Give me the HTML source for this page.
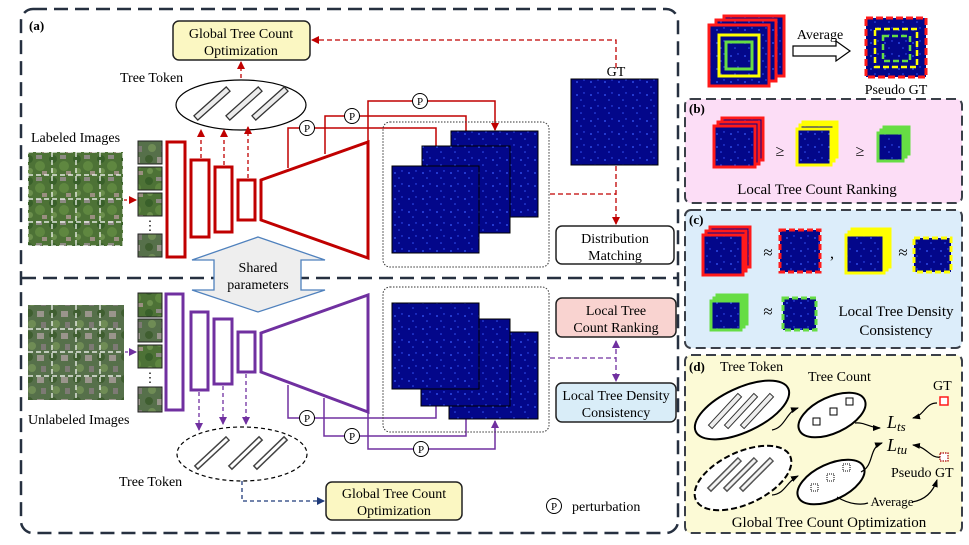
<!DOCTYPE html>
<html><head><meta charset="utf-8"><style>
html,body{margin:0;padding:0;background:#fff;}
svg{display:block;font-family:"Liberation Serif",serif;}
</style></head><body>
<svg width="969" height="545" viewBox="0 0 969 545" xmlns="http://www.w3.org/2000/svg">
<defs>
<pattern id="dots" width="14" height="13" patternUnits="userSpaceOnUse">
<rect width="14" height="13" fill="#03078a"/>
<circle cx="3" cy="4" r="0.9" fill="#3a5cff"/><circle cx="10" cy="2" r="0.7" fill="#3858ff"/>
<circle cx="7" cy="9" r="0.8" fill="#3454f5"/>
</pattern>
<pattern id="aer" width="24" height="22" patternUnits="userSpaceOnUse">
<rect width="24" height="22" fill="#4d7236"/>
<circle cx="5" cy="5" r="4" fill="#39602a"/><circle cx="16" cy="12" r="5" fill="#5f8740"/>
<rect x="12" y="1" width="6" height="4" fill="#8c8a82"/><circle cx="6" cy="17" r="3" fill="#6b8f4c"/>
<rect x="18" y="17" width="5" height="4" fill="#9a8f80"/>
</pattern>
<pattern id="aer2" width="24" height="22" patternUnits="userSpaceOnUse">
<rect width="24" height="22" fill="#56704a"/>
<circle cx="5" cy="5" r="4" fill="#3f5e30"/><rect x="13" y="3" width="7" height="6" fill="#9a958c"/>
<circle cx="8" cy="16" r="4" fill="#6f8c55"/><rect x="17" y="14" width="5" height="6" fill="#7d7a74"/>
</pattern>
<marker id="ar" markerWidth="8" markerHeight="8" refX="7" refY="4" orient="auto" markerUnits="userSpaceOnUse"><path d="M0,0 L8,4 L0,8 Z" fill="#c00000"/></marker>
<marker id="ap" markerWidth="8" markerHeight="8" refX="7" refY="4" orient="auto" markerUnits="userSpaceOnUse"><path d="M0,0 L8,4 L0,8 Z" fill="#7030a0"/></marker>
<marker id="apb" markerWidth="8" markerHeight="8" refX="1" refY="4" orient="auto" markerUnits="userSpaceOnUse"><path d="M8,0 L0,4 L8,8 Z" fill="#7030a0"/></marker>
<marker id="an" markerWidth="8" markerHeight="8" refX="7" refY="4" orient="auto" markerUnits="userSpaceOnUse"><path d="M0,0 L8,4 L0,8 Z" fill="#1f3a7a"/></marker>
<marker id="ak" markerWidth="8" markerHeight="8" refX="7" refY="4" orient="auto" markerUnits="userSpaceOnUse"><path d="M0,1 L8,4 L0,7 Z" fill="#000"/></marker>
</defs>

<rect x="21" y="9" width="657" height="524" rx="12" fill="none" stroke="#263040" stroke-width="2.5" stroke-dasharray="14,7"/>
<line x1="22" y1="278" x2="677" y2="278" stroke="#263040" stroke-width="2.5" stroke-dasharray="14,7"/>
<text x="29" y="30" font-size="13" font-weight="bold">(a)</text>

<rect x="173" y="21" width="137" height="39" rx="6" fill="#fbf7c2" stroke="#222" stroke-width="1.5"/>
<text x="241" y="38" font-size="14" text-anchor="middle">Global Tree Count</text>
<text x="241" y="55" font-size="14" text-anchor="middle">Optimization</text>
<path d="M616,68 V40 H312" fill="none" stroke="#c00000" stroke-width="1.3" stroke-dasharray="5,3" marker-end="url(#ar)"/>
<line x1="241" y1="78" x2="241" y2="62" stroke="#c00000" stroke-width="1.3" stroke-dasharray="4,3" marker-end="url(#ar)"/>
<text x="120" y="82" font-size="14">Tree Token</text>
<ellipse cx="241" cy="105" rx="65" ry="25" fill="#fff" stroke="#000" stroke-width="1.2"/>
<g stroke="#333" stroke-width="7" stroke-linecap="square"><line x1="198" y1="116" x2="226" y2="91"/><line x1="230" y1="116" x2="258" y2="91"/><line x1="256" y1="116" x2="284" y2="91"/></g>
<g stroke="#ececec" stroke-width="4.5" stroke-linecap="square"><line x1="198" y1="116" x2="226" y2="91"/><line x1="230" y1="116" x2="258" y2="91"/><line x1="256" y1="116" x2="284" y2="91"/></g>

<text x="31" y="142" font-size="14">Labeled Images</text>
<rect x="28" y="152" width="95" height="94" fill="url(#aer)"/>
<g stroke="#fff" stroke-width="1.2" stroke-dasharray="5,3" fill="none"><rect x="28" y="152" width="95" height="94"/><line x1="52" y1="152" x2="52" y2="246"/><line x1="76" y1="152" x2="76" y2="246"/><line x1="100" y1="152" x2="100" y2="246"/><line x1="28" y1="175" x2="123" y2="175"/><line x1="28" y1="199" x2="123" y2="199"/><line x1="28" y1="222" x2="123" y2="222"/></g>
<line x1="124" y1="200" x2="136" y2="200" stroke="#c00000" stroke-width="1.3" stroke-dasharray="3,2" marker-end="url(#ar)"/>
<g stroke="#222" stroke-width="1"><rect x="138" y="141" width="24" height="23" fill="url(#aer2)"/><rect x="138" y="167" width="24" height="23" fill="url(#aer)"/><rect x="138" y="193" width="24" height="23" fill="url(#aer)"/><rect x="138" y="234" width="24" height="23" fill="url(#aer2)"/></g>
<text x="150" y="230" font-size="13" text-anchor="middle">⋮</text>

<g fill="#fff" stroke="#c00000" stroke-width="3"><rect x="167" y="142" width="18" height="115"/><rect x="191" y="160" width="18" height="77"/><rect x="215" y="167" width="17" height="65"/><rect x="238" y="180" width="17" height="40"/>
<path d="M261,180 L368,142 L368,258 L261,220 Z"/></g>
<g stroke="#c00000" stroke-width="1.3" stroke-dasharray="4,3" fill="none"><line x1="201" y1="158" x2="201" y2="130" marker-end="url(#ar)"/><line x1="224" y1="165" x2="224" y2="130" marker-end="url(#ar)"/><line x1="248" y1="178" x2="248" y2="127" marker-end="url(#ar)"/></g>
<g stroke="#c00000" stroke-width="1.5" fill="none"><path d="M288,168 V128 H436 V165" marker-end="url(#ar)"/><path d="M325,154 V116 H466 V145" marker-end="url(#ar)"/><path d="M368,142 V101 H495 V130" marker-end="url(#ar)"/></g>
<g font-size="11" text-anchor="middle"><circle cx="307" cy="128" r="7.5" fill="#fff" stroke="#000"/><text x="307" y="132">P</text><circle cx="352" cy="116" r="7.5" fill="#fff" stroke="#000"/><text x="352" y="120">P</text><circle cx="420" cy="101" r="7.5" fill="#fff" stroke="#000"/><text x="420" y="105">P</text></g>

<rect x="383" y="122" width="166" height="145" rx="7" fill="none" stroke="#333" stroke-width="1" stroke-dasharray="1.5,1.5"/>
<g stroke="#000" stroke-width="1"><rect x="451" y="131" width="87" height="86" fill="url(#dots)"/><rect x="422" y="146" width="88" height="87" fill="url(#dots)"/><rect x="392" y="166" width="87" height="87" fill="url(#dots)"/></g>
<text x="616" y="76" font-size="14" text-anchor="middle">GT</text>
<rect x="571" y="79" width="87" height="86" fill="url(#dots)" stroke="#000"/>
<g stroke="#c00000" stroke-width="1.3" stroke-dasharray="5,3" fill="none"><line x1="616" y1="166" x2="616" y2="224" marker-end="url(#ar)"/><line x1="550" y1="194" x2="616" y2="194"/></g>
<rect x="556" y="226" width="118" height="38" rx="6" fill="#fff" stroke="#222" stroke-width="1.5"/>
<text x="615" y="243" font-size="14" text-anchor="middle">Distribution</text>
<text x="615" y="260" font-size="14" text-anchor="middle">Matching</text>

<path d="M258,237 L325,260 L301,260 L301,290 L325,290 L258,312 L192,290 L214,290 L214,260 L192,260 Z" fill="#eeeeee" stroke="#4f81bd" stroke-width="1.3"/>
<text x="258" y="272" font-size="14" text-anchor="middle">Shared</text>
<text x="258" y="289" font-size="14" text-anchor="middle">parameters</text>

<rect x="28" y="305" width="96" height="95" fill="url(#aer2)"/>
<g stroke="#fff" stroke-width="1.2" stroke-dasharray="5,3" fill="none"><line x1="52" y1="305" x2="52" y2="400"/><line x1="76" y1="305" x2="76" y2="400"/><line x1="100" y1="305" x2="100" y2="400"/><line x1="28" y1="329" x2="124" y2="329"/><line x1="28" y1="352" x2="124" y2="352"/><line x1="28" y1="376" x2="124" y2="376"/></g>
<text x="28" y="424" font-size="14">Unlabeled Images</text>
<line x1="125" y1="352" x2="136" y2="352" stroke="#7030a0" stroke-width="1.3" stroke-dasharray="3,2" marker-end="url(#ap)"/>
<g stroke="#222" stroke-width="1"><rect x="138" y="293" width="24" height="24" fill="url(#aer)"/><rect x="138" y="319" width="24" height="23" fill="url(#aer2)"/><rect x="138" y="345" width="24" height="23" fill="url(#aer)"/><rect x="138" y="387" width="24" height="25" fill="url(#aer2)"/></g>
<text x="150" y="382" font-size="13" text-anchor="middle">⋮</text>
<g fill="#fff" stroke="#7030a0" stroke-width="3"><rect x="166" y="294" width="17" height="116"/><rect x="191" y="312" width="17" height="78"/><rect x="214" y="319" width="18" height="65"/><rect x="238" y="332" width="17" height="40"/>
<path d="M261,333 L368,295 L368,412 L261,372 Z"/></g>
<g stroke="#7030a0" stroke-width="1.3" stroke-dasharray="4,3" fill="none"><line x1="199" y1="392" x2="199" y2="430" marker-end="url(#ap)"/><line x1="223" y1="386" x2="223" y2="424" marker-end="url(#ap)"/><line x1="246" y1="374" x2="246" y2="424" marker-end="url(#ap)"/></g>
<ellipse cx="242" cy="454" rx="65" ry="27" fill="#fff" stroke="#000" stroke-width="1.2" stroke-dasharray="4,3"/>
<g stroke="#444" stroke-width="6" stroke-linecap="square" stroke-dasharray="3,2"><line x1="198" y1="466" x2="226" y2="440"/><line x1="232" y1="466" x2="259" y2="440"/><line x1="257" y1="466" x2="284" y2="440"/></g>
<g stroke="#fff" stroke-width="3" stroke-linecap="square"><line x1="198" y1="466" x2="226" y2="440"/><line x1="232" y1="466" x2="259" y2="440"/><line x1="257" y1="466" x2="284" y2="440"/></g>
<text x="119" y="486" font-size="14">Tree Token</text>
<path d="M242,481 V501 H324" fill="none" stroke="#1f3a7a" stroke-width="1.3" stroke-dasharray="4,3" marker-end="url(#an)"/>
<rect x="326" y="482" width="136" height="38" rx="6" fill="#fbf7c2" stroke="#222" stroke-width="1.5"/>
<text x="394" y="498" font-size="14" text-anchor="middle">Global Tree Count</text>
<text x="394" y="515" font-size="14" text-anchor="middle">Optimization</text>

<g stroke="#7030a0" stroke-width="1.5" fill="none"><path d="M288,385 V418 H436 V392" marker-end="url(#ap)"/><path d="M324,398 V436 H466 V408" marker-end="url(#ap)"/><path d="M368,412 V449 H495 V421" marker-end="url(#ap)"/></g>
<g font-size="11" text-anchor="middle"><circle cx="307" cy="418" r="7.5" fill="#fff" stroke="#000"/><text x="307" y="422">P</text><circle cx="352" cy="436" r="7.5" fill="#fff" stroke="#000"/><text x="352" y="440">P</text><circle cx="421" cy="449" r="7.5" fill="#fff" stroke="#000"/><text x="421" y="453">P</text></g>
<rect x="383" y="287" width="166" height="145" rx="7" fill="none" stroke="#333" stroke-width="1" stroke-dasharray="1.5,1.5"/>
<g stroke="#000" stroke-width="1"><rect x="449" y="332" width="89" height="87" fill="url(#dots)"/><rect x="421" y="319" width="89" height="87" fill="url(#dots)"/><rect x="392" y="303" width="87" height="86" fill="url(#dots)"/></g>
<rect x="556" y="298" width="120" height="39" rx="6" fill="#f9d3d0" stroke="#222" stroke-width="1.5"/>
<text x="616" y="315" font-size="14" text-anchor="middle">Local Tree</text>
<text x="616" y="332" font-size="14" text-anchor="middle">Count Ranking</text>
<rect x="556" y="383" width="120" height="39" rx="6" fill="#d9edf8" stroke="#222" stroke-width="1.5"/>
<text x="616" y="400" font-size="14" text-anchor="middle">Local Tree Density</text>
<text x="616" y="417" font-size="14" text-anchor="middle">Consistency</text>
<g stroke="#7030a0" stroke-width="1.3" stroke-dasharray="5,3" fill="none"><line x1="550" y1="358" x2="616" y2="358"/><line x1="616" y1="341" x2="616" y2="381" marker-start="url(#apb)" marker-end="url(#ap)"/></g>
<circle cx="554" cy="506" r="7.5" fill="#fff" stroke="#000"/><text x="554" y="510" font-size="11" text-anchor="middle">P</text>
<text x="572" y="511" font-size="14">perturbation</text>

<g stroke="#ff1a1a" stroke-width="3"><rect x="724" y="16" width="60" height="60" fill="url(#dots)"/><rect x="716" y="20" width="60" height="61" fill="url(#dots)"/><rect x="709" y="25" width="60" height="61" fill="url(#dots)"/></g>
<rect x="719" y="35" width="40" height="41" fill="none" stroke="#ffff00" stroke-width="3"/>
<rect x="726" y="42" width="26" height="27" fill="none" stroke="#66dd44" stroke-width="3"/>
<text x="820" y="39" font-size="14" text-anchor="middle">Average</text>
<path d="M793,46 H836 V41 L850,51 L836,61 V56 H793 Z" fill="#fff" stroke="#000" stroke-width="1.2"/>
<rect x="866" y="18" width="60" height="59" fill="url(#dots)" stroke="#ff1a1a" stroke-width="3" stroke-dasharray="7,3"/>
<rect x="875" y="29" width="42" height="38" fill="none" stroke="#ffff00" stroke-width="2.5" stroke-dasharray="6,3"/>
<rect x="883" y="36" width="27" height="25" fill="none" stroke="#66dd44" stroke-width="2.5" stroke-dasharray="6,3"/>
<text x="896" y="94" font-size="14" text-anchor="middle">Pseudo GT</text>

<rect x="685" y="99" width="277" height="104" rx="6" fill="#fcddf6" stroke="#3a3f48" stroke-width="2" stroke-dasharray="10,5"/>
<text x="689" y="113" font-size="13" font-weight="bold">(b)</text>
<g stroke="#ff1a1a" stroke-width="3"><rect x="722" y="118" width="41" height="42" fill="url(#dots)"/><rect x="718" y="122" width="41" height="42" fill="url(#dots)"/><rect x="714" y="126" width="41" height="41" fill="url(#dots)"/></g>
<text x="780" y="156" font-size="16" text-anchor="middle">≥</text>
<g stroke="#ffff00" stroke-width="3"><rect x="803" y="122" width="34" height="35" fill="url(#dots)"/><rect x="800" y="125" width="34" height="36" fill="url(#dots)"/><rect x="797" y="129" width="34" height="36" fill="url(#dots)"/></g>
<text x="860" y="156" font-size="16" text-anchor="middle">≥</text>
<g stroke="#66dd44" stroke-width="3"><rect x="884" y="127" width="25" height="27" fill="url(#dots)"/><rect x="881" y="130" width="25" height="27" fill="url(#dots)"/><rect x="878" y="133" width="25" height="28" fill="url(#dots)"/></g>
<text x="817" y="194" font-size="15" text-anchor="middle">Local Tree Count Ranking</text>

<rect x="685" y="210" width="277" height="138" rx="6" fill="#dcedfa" stroke="#3a3f48" stroke-width="2" stroke-dasharray="10,5"/>
<text x="689" y="224" font-size="13" font-weight="bold">(c)</text>
<g stroke="#ff1a1a" stroke-width="3"><rect x="710" y="227" width="40" height="40" fill="url(#dots)"/><rect x="706" y="231" width="40" height="40" fill="url(#dots)"/><rect x="703" y="235" width="40" height="40" fill="url(#dots)"/></g>
<text x="768" y="258" font-size="17" text-anchor="middle">≈</text>
<rect x="780" y="230" width="40" height="42" fill="url(#dots)" stroke="#ff1a1a" stroke-width="3" stroke-dasharray="6,3"/>
<text x="832" y="258" font-size="16" text-anchor="middle">,</text>
<g stroke="#ffff00" stroke-width="3"><rect x="852" y="229" width="38" height="38" fill="url(#dots)"/><rect x="849" y="232" width="38" height="38" fill="url(#dots)"/><rect x="846" y="235" width="38" height="38" fill="url(#dots)"/></g>
<text x="903" y="258" font-size="17" text-anchor="middle">≈</text>
<rect x="914" y="238" width="37" height="34" fill="url(#dots)" stroke="#ffff00" stroke-width="3" stroke-dasharray="6,3"/>
<g stroke="#66dd44" stroke-width="3"><rect x="717" y="295" width="30" height="29" fill="url(#dots)"/><rect x="714" y="298" width="30" height="29" fill="url(#dots)"/><rect x="711" y="301" width="30" height="29" fill="url(#dots)"/></g>
<text x="768" y="317" font-size="17" text-anchor="middle">≈</text>
<rect x="783" y="298" width="33" height="32" fill="url(#dots)" stroke="#66dd44" stroke-width="3" stroke-dasharray="6,3"/>
<text x="896" y="316" font-size="15" text-anchor="middle">Local Tree Density</text>
<text x="896" y="335" font-size="15" text-anchor="middle">Consistency</text>

<rect x="685" y="355" width="277" height="178" rx="6" fill="#fcfad6" stroke="#3a3f48" stroke-width="2" stroke-dasharray="10,5"/>
<text x="689" y="371" font-size="13" font-weight="bold">(d)</text>
<text x="720" y="371" font-size="14">Tree Token</text>
<text x="808" y="381" font-size="14">Tree Count</text>
<ellipse cx="742" cy="410" rx="51" ry="22" transform="rotate(-25 742 410)" fill="#fff" stroke="#000" stroke-width="2"/>
<g stroke="#333" stroke-width="6" stroke-linecap="square"><line x1="712" y1="425" x2="738" y2="397"/><line x1="728" y1="425" x2="754" y2="397"/><line x1="744" y1="425" x2="770" y2="397"/></g>
<g stroke="#eee" stroke-width="4" stroke-linecap="square"><line x1="712" y1="425" x2="738" y2="397"/><line x1="728" y1="425" x2="754" y2="397"/><line x1="744" y1="425" x2="770" y2="397"/></g>
<ellipse cx="832" cy="415" rx="36" ry="18" transform="rotate(-25 832 415)" fill="#fff" stroke="#000" stroke-width="2"/>
<g fill="#fff" stroke="#000" stroke-width="1"><rect x="813" y="418" width="7" height="7"/><rect x="830" y="408" width="7" height="7"/><rect x="846" y="398" width="7" height="7"/></g>
<ellipse cx="743" cy="478" rx="52" ry="26" transform="rotate(-25 743 478)" fill="#fff" stroke="#000" stroke-width="2" stroke-dasharray="6,3"/>
<g stroke="#555" stroke-width="6" stroke-linecap="square" stroke-dasharray="3,2"><line x1="711" y1="488" x2="738" y2="461"/><line x1="727" y1="488" x2="754" y2="461"/><line x1="743" y1="488" x2="770" y2="461"/></g>
<g stroke="#f4f4f4" stroke-width="3" stroke-linecap="square"><line x1="711" y1="488" x2="738" y2="461"/><line x1="727" y1="488" x2="754" y2="461"/><line x1="743" y1="488" x2="770" y2="461"/></g>
<ellipse cx="831" cy="482" rx="36" ry="18" transform="rotate(-25 831 482)" fill="#fff" stroke="#000" stroke-width="2"/>
<g fill="#fff" stroke="#000" stroke-width="1" stroke-dasharray="1,1"><rect x="811" y="484" width="7" height="7"/><rect x="827" y="474" width="7" height="7"/><rect x="843" y="464" width="7" height="7"/></g>
<g fill="none" stroke="#000" stroke-width="1.2"><path d="M772,430 C785,428 786,412 798,408" marker-end="url(#ak)"/><path d="M855,423 C865,422 870,428 880,428" marker-end="url(#ak)"/><path d="M772,495 C785,494 786,482 798,476" marker-end="url(#ak)"/><path d="M861,472 C875,465 868,448 882,443" marker-end="url(#ak)"/><path d="M937,403 C925,403 925,415 913,418" marker-end="url(#ak)"/><path d="M941,457 C930,459 928,447 913,445" marker-end="url(#ak)"/><path d="M837,497 C850,505 862,505 868,503"/><path d="M912,502 C925,500 933,492 937,480" marker-end="url(#ak)"/></g>
<text x="887" y="428" font-size="18" font-style="italic">L<tspan font-size="13" dy="3">ts</tspan></text>
<text x="887" y="451" font-size="18" font-style="italic">L<tspan font-size="13" dy="3">tu</tspan></text>
<text x="933" y="390" font-size="14">GT</text>
<rect x="940" y="397" width="8" height="8" fill="#fff" stroke="#ff1a1a" stroke-width="1.5"/>
<rect x="940" y="453" width="8" height="8" fill="#fff" stroke="#a00" stroke-width="1.2" stroke-dasharray="1.5,1"/>
<text x="891" y="477" font-size="14">Pseudo GT</text>
<text x="892" y="506" font-size="13" text-anchor="middle">Average</text>
<text x="829" y="527" font-size="15" text-anchor="middle">Global Tree Count Optimization</text>
</svg>
</body></html>
